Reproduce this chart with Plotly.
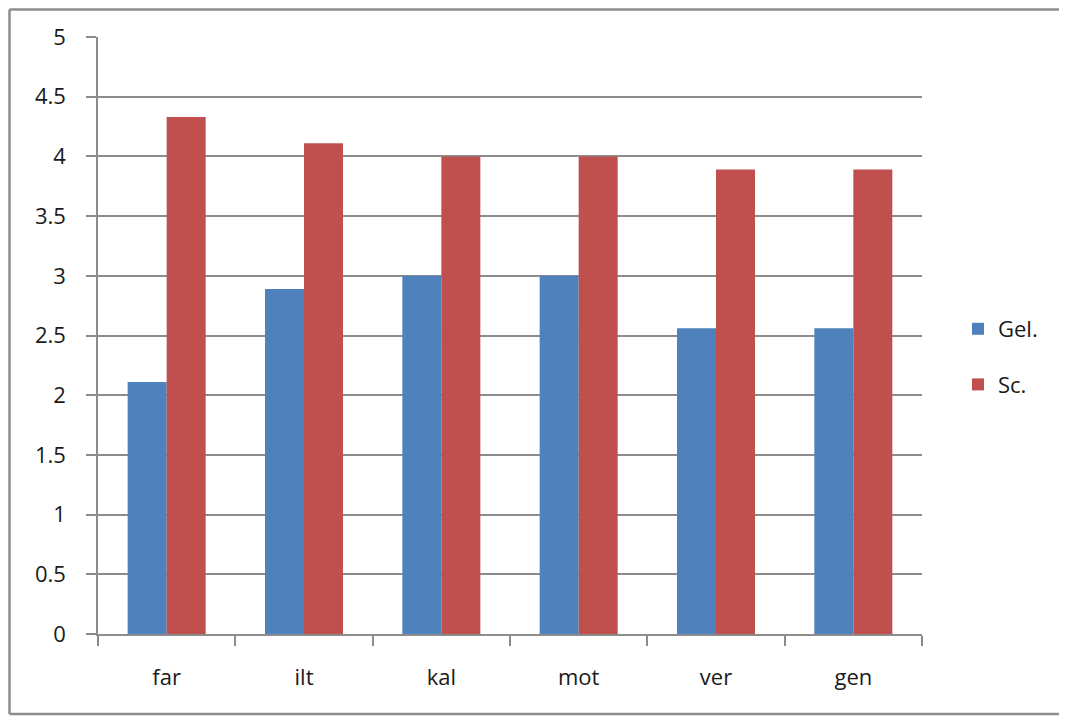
import plotly.graph_objects as go

categories = ["far", "ilt", "kal", "mot", "ver", "gen"]
gel_values = [2.11, 2.89, 3.0, 3.0, 2.56, 2.56]
sc_values = [4.33, 4.11, 4.0, 4.0, 3.89, 3.89]
y_tickvals = [0, 0.5, 1, 1.5, 2, 2.5, 3, 3.5, 4, 4.5, 5]
y_ticktext = ["0", "0.5", "1", "1.5", "2", "2.5", "3", "3.5", "4", "4.5", "5"]

# the page draws the figure 8px in from the window edge
OFF = 8
W, H = 1067 - OFF, 717 - OFF
L, T = 98 - OFF, 37 - OFF
R, B = W - (922 - OFF), H - (634 - OFF)
pw, ph = W - L - R, H - T - B

def px(x):
    return (x - OFF - L) / pw

def py(y):
    return (H - B - (y - OFF)) / ph

font = dict(family="Open Sans, Lato, sans-serif", size=22, color="#1a1a1a")

fig = go.Figure()
fig.add_trace(go.Bar(x=categories, y=gel_values, name="Gel.",
                     marker=dict(color="#4F81BD", line=dict(width=0)),
                     legendgroup="a"))
fig.add_trace(go.Bar(x=categories, y=sc_values, name="Sc.",
                     marker=dict(color="#C0504D", line=dict(width=0)),
                     legendgroup="b"))

frame = dict(color="#8c8c8c", width=2.5)
x0, x1, y0, y1 = px(9.5), px(1100), py(714), py(9.5)

fig.update_layout(
    width=W, height=H,
    margin=dict(l=L, r=R, t=T, b=B, autoexpand=False),
    paper_bgcolor="white", plot_bgcolor="white",
    font=font,
    barmode="group", bargap=0.432, bargroupgap=0,
    legend=dict(x=px(958), y=py(357), xanchor="left", yanchor="middle",
                traceorder="grouped", tracegroupgap=24,
                font=font, itemwidth=30, bgcolor="rgba(0,0,0,0)"),
    xaxis=dict(showline=True, linecolor="#8c8c8c", linewidth=1.5,
               ticks="outside", tickson="boundaries", ticklen=10,
               tickcolor="#8c8c8c", tickwidth=1.5,
               showgrid=False, ticklabelstandoff=23, fixedrange=True),
    yaxis=dict(range=[0, 5], tickvals=y_tickvals, ticktext=y_ticktext,
               showline=True, linecolor="#8c8c8c", linewidth=1.5,
               ticks="outside", ticklen=10, tickcolor="#8c8c8c", tickwidth=1.5,
               showgrid=True, gridcolor="#8c8c8c", gridwidth=1.5,
               zeroline=False, ticklabelstandoff=16, fixedrange=True),
    shapes=[
        dict(type="line", xref="paper", yref="paper", x0=x0, x1=x0, y0=y0, y1=y1, line=frame, layer="below"),
        dict(type="line", xref="paper", yref="paper", x0=x0, x1=x1, y0=y1, y1=y1, line=frame, layer="below"),
        dict(type="line", xref="paper", yref="paper", x0=x0, x1=x1, y0=y0, y1=y0, line=frame, layer="below"),
    ],
)

fig.write_html("out.html")
